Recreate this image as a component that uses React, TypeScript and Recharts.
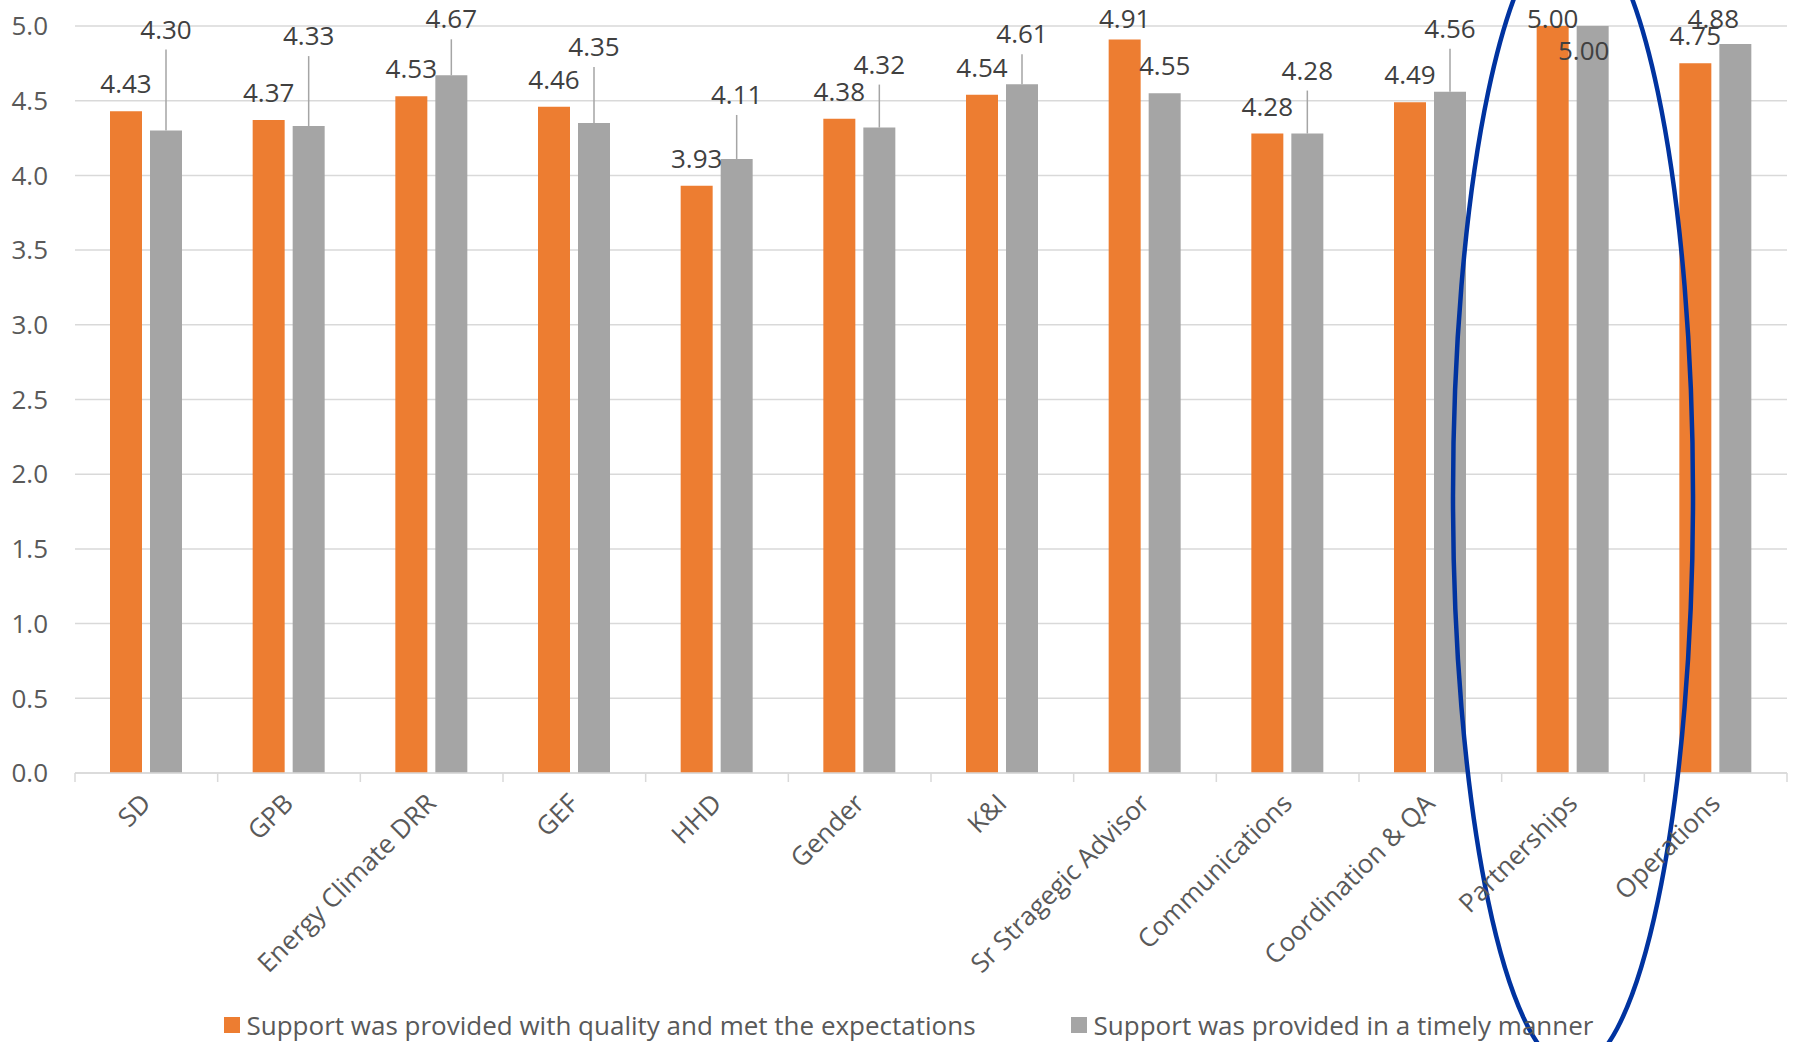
import React from 'react';
import {
  BarChart,
  Bar,
  XAxis,
  YAxis,
  CartesianGrid,
  Legend,
  LabelList,
  ReferenceDot,
} from 'recharts';

const units = [
  'SD',
  'GPB',
  'Energy Climate DRR',
  'GEF',
  'HHD',
  'Gender',
  'K&I',
  'Sr Stragegic Advisor',
  'Communications',
  'Coordination & QA',
  'Partnerships',
  'Operations',
];
const qualityScores = [4.43, 4.37, 4.53, 4.46, 3.93, 4.38, 4.54, 4.91, 4.28, 4.49, 5.0, 4.75];
const timelyScores = [4.3, 4.33, 4.67, 4.35, 4.11, 4.32, 4.61, 4.55, 4.28, 4.56, 5.0, 4.88];
const yTicks = [0, 0.5, 1, 1.5, 2, 2.5, 3, 3.5, 4, 4.5, 5];

const QUALITY_NAME = 'Support was provided with quality and met the expectations';
const TIMELY_NAME = 'Support was provided in a timely manner';

// where the (hand-moved) data labels sit, in px above the bar top
const qualityLabelLift = [28, 28, 28, 28, 28, 28, 28, 21, 28, 28, 8, 28];
const timelyLabelLift = [102, 91, 57, 77, 65, 64, 51, 28, 64, 64, -24, 26];
const timelyLabelShift = [0, 0, 0, 0, 0, 0, 0, 0, 0, 0, -9, -22];

const data = units.map((name, i) => ({
  name,
  quality: qualityScores[i],
  timely: timelyScores[i],
}));

const W = 1793;
const H = 1042;
const LEFT = 75;
const RIGHT = 6;
const BAND = (W - LEFT - RIGHT) / units.length;

const FONT = "'Open Sans', sans-serif";
const FS = 26;
const ORANGE = '#ED7D31';
const GRAY = '#A5A5A5';
const GRID = '#D9D9D9';
const TEXT = '#595959';
const LABEL = '#404040';

const QualityLabel = (props: any) => {
  const { x, y, width, value, index } = props;
  const cx = x + width / 2;
  return (
    <text
      x={cx}
      y={y - qualityLabelLift[index]}
      textAnchor="middle"
      dominantBaseline="central"
      fontFamily={FONT}
      fontSize={FS}
      fill={LABEL}
    >
      {Number(value).toFixed(2)}
    </text>
  );
};

const TimelyLabel = (props: any) => {
  const { x, y, width, value, index } = props;
  const cx = x + width / 2;
  const lift = timelyLabelLift[index];
  const ly = y - lift;
  return (
    <g>
      {lift > 35 && <line x1={cx} x2={cx} y1={y} y2={ly + 21} stroke={GRAY} strokeWidth={1.5} />}
      <text
        x={cx + timelyLabelShift[index]}
        y={ly}
        textAnchor="middle"
        dominantBaseline="central"
        fontFamily={FONT}
        fontSize={FS}
        fill={LABEL}
      >
        {Number(value).toFixed(2)}
      </text>
    </g>
  );
};

const CategoryTick = (props: any) => {
  const { x, y, payload, index } = props;
  const last = index === units.length - 1;
  return (
    <g>
      <line x1={x - BAND / 2} x2={x - BAND / 2} y1={y} y2={y + 9} stroke={GRID} strokeWidth={1.5} />
      {last && <line x1={x + BAND / 2} x2={x + BAND / 2} y1={y} y2={y + 9} stroke={GRID} strokeWidth={1.5} />}
      <text
        x={x + 6}
        y={y + 32}
        textAnchor="end"
        transform={`rotate(-45, ${x + 6}, ${y + 32})`}
        fontFamily={FONT}
        fontSize={FS}
        fill={TEXT}
      >
        {payload.value}
      </text>
    </g>
  );
};

const LegendContent = () => (
  <div
    style={{
      height: 34,
      display: 'flex',
      alignItems: 'center',
      justifyContent: 'center',
      gap: 95,
      paddingLeft: 30,
      fontFamily: FONT,
      fontSize: FS,
      color: TEXT,
    }}
  >
    {[
      { c: ORANGE, t: QUALITY_NAME },
      { c: GRAY, t: TIMELY_NAME },
    ].map((it) => (
      <div key={it.t} style={{ display: 'flex', alignItems: 'center', whiteSpace: 'nowrap' }}>
        <span style={{ width: 16, height: 16, background: it.c, marginRight: 7, display: 'inline-block' }} />
        {it.t}
      </div>
    ))}
  </div>
);

export default function App() {
  return (
    <div style={{ position: 'absolute', left: 0, top: 0, width: W, height: H, background: '#fff' }}>
      <BarChart
        width={W}
        height={H}
        data={data}
        margin={{ top: 26, right: RIGHT, left: 0, bottom: 0 }}
        barSize={32}
        barGap={8}
      >
        <CartesianGrid vertical={false} stroke={GRID} strokeWidth={1.5} />
        <XAxis
          dataKey="name"
          interval={0}
          height={235}
          tickLine={false}
          tickSize={0}
          tickMargin={0}
          axisLine={{ stroke: GRID, strokeWidth: 1.5 }}
          tick={<CategoryTick />}
        />
        <YAxis
          width={LEFT}
          domain={[0, 5]}
          ticks={yTicks}
          tickFormatter={(v: number) => v.toFixed(1)}
          axisLine={false}
          tickLine={false}
          tickSize={0}
          tickMargin={27}
          tick={{ fontFamily: FONT, fontSize: FS, fill: TEXT }}
        />
        <Legend verticalAlign="bottom" content={<LegendContent />} />
        <Bar dataKey="quality" name={QUALITY_NAME} fill={ORANGE} isAnimationActive={false}>
          <LabelList dataKey="quality" content={<QualityLabel />} />
        </Bar>
        <Bar dataKey="timely" name={TIMELY_NAME} fill={GRAY} isAnimationActive={false}>
          <LabelList dataKey="timely" content={<TimelyLabel />} />
        </Bar>
        <ReferenceDot
          x="Partnerships"
          y={1.85}
          r={0}
          ifOverflow="visible"
          shape={(p: any) => (
            <ellipse cx={p.cx} cy={p.cy} rx={120} ry={572} fill="none" stroke="#0033A0" strokeWidth={4.5} />
          )}
        />
      </BarChart>
    </div>
  );
}
